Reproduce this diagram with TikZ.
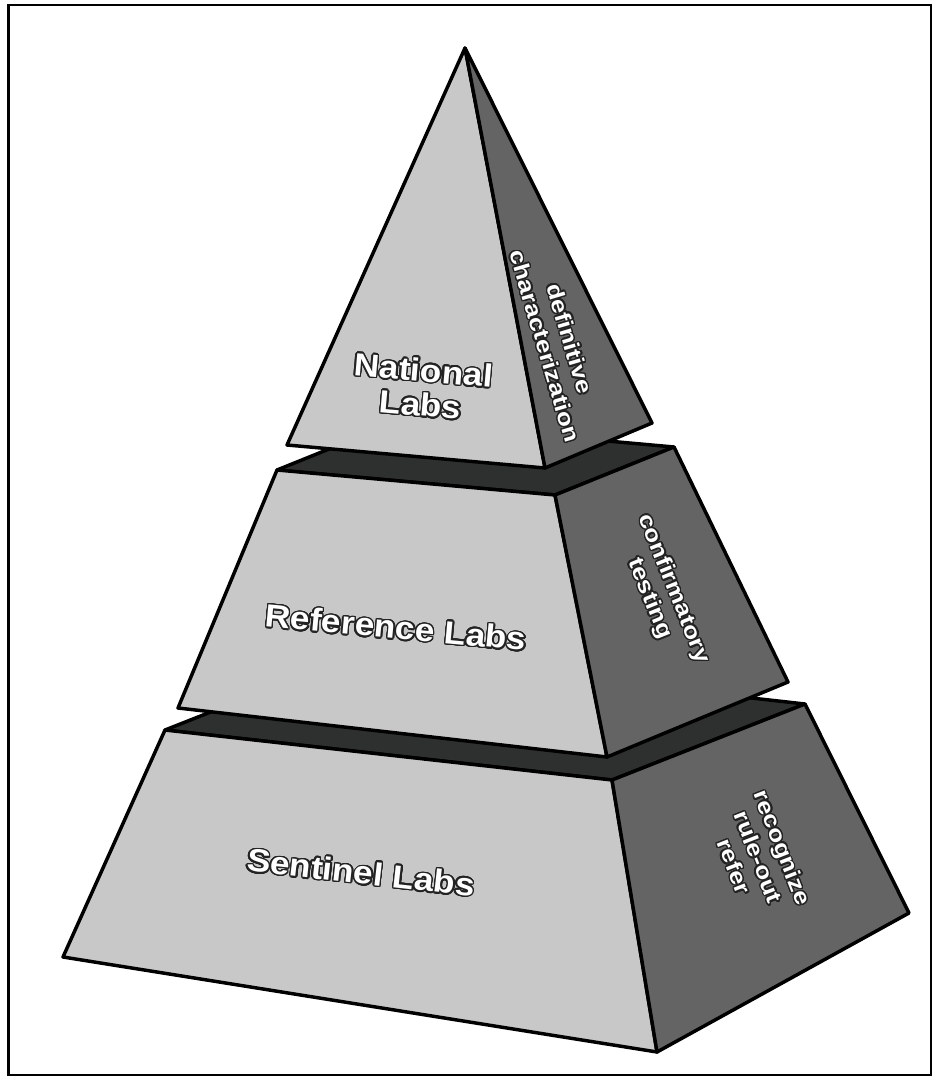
\documentclass[tikz,border=0pt]{standalone}
\usepackage{fontspec}
\setmainfont{Liberation Sans}
\usepackage{contour}
\contourlength{1.1pt}
\contournumber{24}
\definecolor{frontc}{RGB}{200,200,200}
\definecolor{sidec}{RGB}{100,100,100}
\definecolor{topc}{RGB}{46,48,48}
\definecolor{glowc}{RGB}{35,35,35}
\newcommand{\gl}[1]{\contour{glowc}{#1}}
\begin{document}
\begin{tikzpicture}[x=0.75pt,y=-0.75pt,
  face/.style={draw=black,line width=2.6pt,line join=round},
  frontface/.style={face,fill=frontc},
  sideface/.style={face,fill=sidec},
  topface/.style={face,fill=topc},
  frontlabel/.style={text=white,font=\fontsize{24}{26}\selectfont\bfseries,inner sep=0pt},
  sidelabel/.style={text=white,font=\fontsize{19.5}{23}\selectfont\bfseries,inner sep=0pt}]
\useasboundingbox (0,0) rectangle (938,1080);
\draw[line width=1.6pt] (8.5,5) rectangle (931,1075);

% bottom tier
\coordinate (BTL) at (165,730);
\coordinate (BTR) at (612,780);
\coordinate (BTBR) at (805,704);
\coordinate (BTBL) at (358,654);
\coordinate (BBBR) at (909,913);
\coordinate (BBR) at (657,1052);
\coordinate (BBL) at (63,957);
% middle tier
\coordinate (MTL) at (277,470);
\coordinate (MTR) at (555,495);
\coordinate (MTBR) at (674,447);
\coordinate (MTBL) at (396,422);
\coordinate (MBBR) at (788,682);
\coordinate (MBR) at (607,757);
\coordinate (MBL) at (178,708);
% top pyramid
\coordinate (A) at (465,48);
\coordinate (TFL) at (287,445);
\coordinate (TFR) at (545,468);
\coordinate (TBR) at (652,423);

\draw[topface] (BTL) -- (BTBL) -- (BTBR) -- (BTR) -- cycle;
\draw[frontface] (BTL) -- (BTR) -- (BBR) -- (BBL) -- cycle;
\draw[sideface] (BTR) -- (BTBR) -- (BBBR) -- (BBR) -- cycle;

\draw[topface] (MTL) -- (MTBL) -- (MTBR) -- (MTR) -- cycle;
\draw[frontface] (MTL) -- (MTR) -- (MBR) -- (MBL) -- cycle;
\draw[sideface] (MTR) -- (MTBR) -- (MBBR) -- (MBR) -- cycle;

\draw[frontface] (A) -- (TFR) -- (TFL) -- cycle;
\draw[sideface] (A) -- (TBR) -- (TFR) -- cycle;

\node[frontlabel,rotate=-5,align=center] (national) at (422,388)
  {\gl{\scalebox{1.1}[1]{National}}\\\gl{\scalebox{1.1}[1]{Labs}}};
\node[frontlabel,rotate=-5.3] (reference) at (396,628)
  {\gl{\scalebox{1.1}[1]{Reference Labs}}};
\node[frontlabel,rotate=-6.4] (sentinel) at (361,873)
  {\gl{\scalebox{1.1}[1]{Sentinel Labs}}};

\node[sidelabel,rotate=-73.5] (defin) at (555,343)
  {\scalebox{1}[0.85]{\begin{tabular}{@{}c@{}}\gl{definitive}\\\gl{characterization}\end{tabular}}};
\node[sidelabel,rotate=-68] (confirm) at (661,594)
  {\scalebox{1}[0.85]{\begin{tabular}{@{}c@{}}\gl{confirmatory}\\\gl{testing}\end{tabular}}};
\node[sidelabel,rotate=-68.6] (recog) at (756,858)
  {\scalebox{1}[0.85]{\begin{tabular}{@{}c@{}}\gl{recognize}\\\gl{rule-out}\\\gl{refer}\end{tabular}}};
\end{tikzpicture}
\end{document}
